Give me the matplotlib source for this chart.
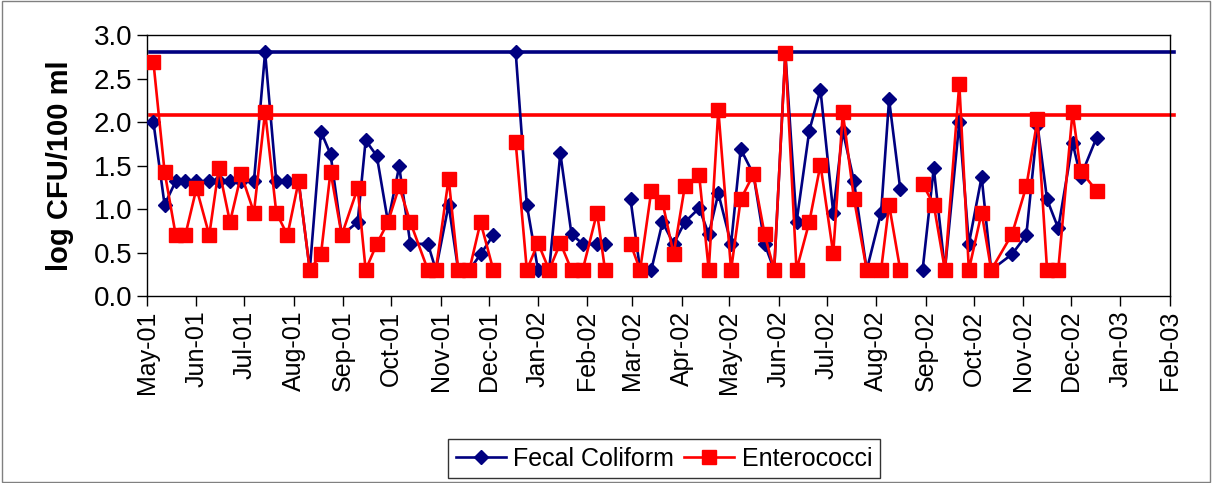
import matplotlib
matplotlib.use('Agg')
import matplotlib.pyplot as plt
import matplotlib.dates as mdates
from matplotlib.patches import Rectangle
import numpy as np
import pandas as pd

plt.rcParams['font.family'] = ['Liberation Sans', 'DejaVu Sans']

# sampling dates (None rows = no sample, gives a break in the lines)
dates = ['2001-05-05', '2001-05-12', '2001-05-19', '2001-05-25', '2001-06-01',
         '2001-06-09', '2001-06-15', '2001-06-22', '2001-06-29', '2001-07-07',
         '2001-07-14', '2001-07-21', '2001-07-28', '2001-08-04', '2001-08-11',
         '2001-08-18', '2001-08-24', '2001-08-31', '2001-09-10', '2001-09-15',
         '2001-09-22', '2001-09-29', '2001-10-06', '2001-10-13', '2001-10-24',
         '2001-10-29', '2001-11-06', '2001-11-12', '2001-11-19', '2001-11-26',
         '2001-12-04', '2001-12-11', '2001-12-18', '2001-12-25', '2002-01-01',
         '2002-01-08', '2002-01-15', '2002-01-22', '2002-01-29', '2002-02-07',
         '2002-02-12', '2002-02-20', '2002-02-28', '2002-03-06', '2002-03-13',
         '2002-03-20', '2002-03-27', '2002-04-03', '2002-04-12', '2002-04-18',
         '2002-04-24', '2002-05-02', '2002-05-08', '2002-05-16', '2002-05-23',
         '2002-05-29', '2002-06-05', '2002-06-12', '2002-06-20', '2002-06-27',
         '2002-07-05', '2002-07-11', '2002-07-18', '2002-07-26', '2002-08-04',
         '2002-08-09', '2002-08-16', '2002-08-23', '2002-08-30', '2002-09-06',
         '2002-09-13', '2002-09-22', '2002-09-28', '2002-10-06', '2002-10-12',
         '2002-10-25', '2002-11-03', '2002-11-10', '2002-11-16', '2002-11-23',
         '2002-12-02', '2002-12-07', '2002-12-17']

fecal = [2.00, 1.05, 1.32, 1.32, 1.32, 1.32, 1.32, 1.32, 1.32, 1.32,
         2.80, 1.32, 1.32, 1.32, 0.30, 1.89, 1.63, 0.70, 0.85, 1.79,
         1.61, 0.85, 1.49, 0.60, 0.60, 0.30, 1.05, 0.30, 0.30, 0.48,
         0.70, None, 2.81, 1.05, 0.30, 0.30, 1.64, 0.71, 0.60, 0.60,
         0.60, None, 1.11, 0.30, 0.30, 0.85, 0.60, 0.85, 1.01, 0.71,
         1.18, 0.60, 1.69, 1.40, 0.60, 0.30, 2.79, 0.85, 1.90, 2.37,
         0.96, 1.90, 1.32, 0.30, 0.96, 2.26, 1.23, None, 0.30, 1.47,
         0.30, 2.00, 0.60, 1.37, 0.30, 0.48, 0.70, 1.97, 1.11, 0.78,
         1.76, 1.37, 1.82]

entero = [2.69, 1.43, 0.70, 0.70, 1.24, 0.70, 1.47, 0.85, 1.40, 0.96,
          2.12, 0.96, 0.70, 1.32, 0.30, 0.48, 1.43, 0.70, 1.24, 0.30,
          0.60, 0.85, 1.26, 0.85, 0.30, 0.30, 1.35, 0.30, 0.30, 0.85,
          0.30, None, 1.77, 0.30, 0.61, 0.30, 0.61, 0.30, 0.30, 0.96,
          0.30, None, 0.60, 0.30, 1.21, 1.08, 0.48, 1.26, 1.39, 0.30,
          2.14, 0.30, 1.11, 1.40, 0.71, 0.30, 2.79, 0.30, 0.85, 1.51,
          0.49, 2.11, 1.12, 0.30, 0.30, 1.05, 0.30, None, 1.29, 1.05,
          0.30, 2.44, 0.30, 0.96, 0.30, 0.71, 1.26, 2.03, 0.30, 0.30,
          2.12, 1.44, 1.21]

fc_limit = 2.8
ent_limit = 2.08

x = pd.to_datetime(dates)
fc = np.array([np.nan if v is None else v for v in fecal])
ent = np.array([np.nan if v is None else v for v in entero])

navy = '#000080'
red = '#FF0000'

fig = plt.figure(figsize=(12.12, 4.83), dpi=100)
ax = fig.add_axes([0.1213, 0.387, 0.8440, 0.5405])

ax.axhline(fc_limit, xmin=0.003, xmax=1.004, color=navy, lw=2.6, clip_on=False, zorder=1)
ax.axhline(ent_limit, xmin=0.003, xmax=1.004, color=red, lw=2.6, clip_on=False, zorder=1)

ax.plot(x, fc, color=navy, lw=1.9, marker='D', ms=7, mec=navy, mfc=navy,
        label='Fecal Coliform', zorder=3)
ax.plot(x, ent, color=red, lw=1.9, marker='s', ms=9.5, mec=red, mfc=red,
        label='Enterococci', zorder=4)

ax.set_xlim(pd.Timestamp('2001-05-01'), pd.Timestamp('2003-02-01'))
ax.set_ylim(0, 3.0)
ax.set_yticks(np.arange(0, 3.01, 0.5))
ax.yaxis.set_major_formatter(plt.FormatStrFormatter('%.1f'))
ax.xaxis.set_major_locator(mdates.MonthLocator())
ax.xaxis.set_major_formatter(mdates.DateFormatter('%b-%y'))
ax.tick_params(axis='x', labelrotation=90, labelsize=18)
ax.tick_params(axis='y', labelsize=20)
ax.tick_params(direction='out', length=7, width=1, colors='black')
for s in ax.spines.values():
    s.set_linewidth(1)
    s.set_color('black')

ax.set_ylabel('log CFU/100 ml', fontsize=21, fontweight='bold', labelpad=14)

leg = fig.legend(loc='center', bbox_to_anchor=(0.548, 0.05), ncol=2, fontsize=18,
                 frameon=True, fancybox=False, edgecolor='black', handlelength=2.0,
                 handletextpad=0.3, columnspacing=0.4, borderpad=0.3)
leg.get_frame().set_linewidth(1)

fig.patches.append(Rectangle((0.002, 0.002), 0.996, 0.996, transform=fig.transFigure,
                             fill=False, edgecolor='#808080', lw=1))

fig.savefig('out.png', dpi=100)
